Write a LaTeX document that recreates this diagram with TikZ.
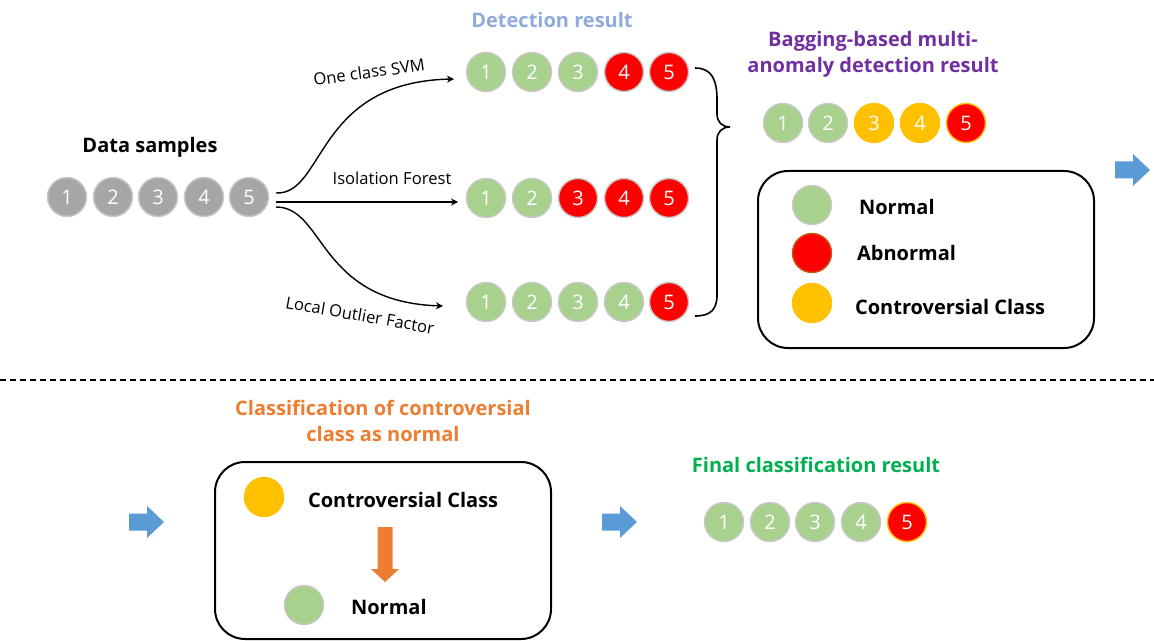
\documentclass[tikz,border=0pt]{standalone}
\usepackage{fontspec}
\setmainfont{Open Sans}
\usepackage{tikz}
\usetikzlibrary{arrows.meta}
\definecolor{samplegray}{RGB}{166,166,166}
\definecolor{rimgray}{RGB}{200,200,200}
\definecolor{normalgreen}{RGB}{169,209,142}
\definecolor{abnormalred}{RGB}{255,0,0}
\definecolor{contraorange}{RGB}{255,192,0}
\definecolor{rimbrown}{RGB}{197,90,17}
\definecolor{flowblue}{RGB}{91,155,213}
\definecolor{steporange}{RGB}{237,125,49}
\definecolor{detectblue}{RGB}{143,170,220}
\definecolor{baggingpurple}{RGB}{112,48,160}
\definecolor{finalgreen}{RGB}{0,176,80}
\tikzset{
    pics/flowarrow/.style={code={
        \fill[flowblue] (-17,-8.5) -- (1,-8.5) -- (1,-16) -- (18,0) -- (1,16)
            -- (1,8.5) -- (-17,8.5) -- cycle;}},
    pics/downarrow/.style={code={
        \fill[steporange] (-7.5,-27.5) -- (7.5,-27.5) -- (7.5,14.5) -- (14,14.5)
            -- (0,27.5) -- (-14,14.5) -- (-7.5,14.5) -- cycle;}}
}

\begin{document}
\begin{tikzpicture}[x=0.5pt,y=-0.5pt,
    dot/.style={circle,minimum size=19.5pt,inner sep=0pt,line width=0.7pt,
        text=white,font=\fontsize{10}{12}\selectfont},
    title/.style={font=\bfseries\fontsize{10}{13}\selectfont,align=center},
    lbl/.style={font=\fontsize{8.3}{10}\selectfont},
    conn/.style={line width=0.7pt,-{Stealth[length=3.5pt,width=3.5pt]}},
    roundbox/.style={draw,line width=1pt,rounded corners=15pt,
        minimum width=168pt,minimum height=88.5pt}]
    \useasboundingbox (0,0) rectangle (1154,641);

    % data samples
    \node[title] (datatitle) at (150,147) {Data samples};
    \foreach \i/\x in {1/67,2/113,3/158,4/204,5/249}
        \node[dot,fill=samplegray,draw=rimgray] (s\i) at (\x,197) {\i};

    % detection rows
    \node[title,text=detectblue] (dettitle) at (552,20) {Detection result};
    \foreach \i/\x/\c in {1/486/normalgreen,2/532/normalgreen,3/578/normalgreen,4/624/abnormalred,5/669/abnormalred}
        \node[dot,fill=\c,draw=rimgray] (a\i) at (\x,72) {\i};
    \foreach \i/\x/\c in {1/486/normalgreen,2/532/normalgreen,3/578/abnormalred,4/624/abnormalred,5/669/abnormalred}
        \node[dot,fill=\c,draw=rimgray] (b\i) at (\x,198) {\i};
    \foreach \i/\x/\c in {1/486/normalgreen,2/532/normalgreen,3/578/normalgreen,4/624/normalgreen,5/669/abnormalred}
        \node[dot,fill=\c,draw=rimgray] (c\i) at (\x,302) {\i};

    % detectors
    \coordinate (out1) at (276,193);
    \coordinate (out2) at (276,202);
    \coordinate (out3) at (276,207);
    \coordinate (in1) at (454,79);
    \coordinate (in2) at (458,202);
    \coordinate (in3) at (443,306);
    \draw[conn] (out1) .. controls (325,195) and (315,82) .. (in1);
    \draw[conn] (out2) -- (in2);
    \draw[conn] (out3) .. controls (325,207) and (318,302) .. (in3);
    \node[lbl,rotate=8] (svm) at (369,72) {One class SVM};
    \node[lbl] (iforest) at (392,178) {Isolation Forest};
    \node[lbl,rotate=-10] (lof) at (360,315) {Local Outlier Factor};

    % brace
    \draw[line width=0.8pt] (695,68) .. controls (712,68) and (717,80) .. (717,100)
        -- (717,114) .. controls (717,122) and (722,127) .. (730,127)
        .. controls (722,127) and (717,132) .. (717,140)
        -- (717,295) .. controls (717,310) and (710,316) .. (695,316);

    % bagging result
    \node[title,text=baggingpurple] (bagtitle) at (873,54)
        {Bagging-based multi-\\anomaly detection result};
    \node[dot,fill=normalgreen,draw=rimgray] (g1) at (783,123) {1};
    \node[dot,fill=normalgreen,draw=rimgray] (g2) at (828,123) {2};
    \node[dot,fill=contraorange,draw=contraorange] (g3) at (874,123) {3};
    \node[dot,fill=contraorange,draw=contraorange] (g4) at (920,123) {4};
    \node[dot,fill=abnormalred,draw=contraorange] (g5) at (966,123) {5};

    % legend
    \node[roundbox] (legend) at (926,259.5) {};
    \node[dot,fill=normalgreen,draw=rimgray] (lg1) at (812,205) {};
    \node[dot,fill=abnormalred,draw=rimbrown] (lg2) at (812,253) {};
    \node[dot,fill=contraorange,draw=contraorange] (lg3) at (812,303) {};
    \node[title,anchor=west] (lgt1) at (852,207) {Normal};
    \node[title,anchor=west] (lgt2) at (850,253) {Abnormal};
    \node[title,anchor=west] (lgt3) at (848,307) {Controversial Class};

    \pic at (1132,170) {flowarrow};

    % separator
    \draw[line width=1pt,dash pattern=on 3pt off 2pt] (0,380) -- (1154,380);

    % reclassification
    \pic at (146,522) {flowarrow};
    \node[title,text=steporange] (clstitle) at (383,421)
        {Classification of controversial\\class as normal};
    \node[roundbox] (clsbox) at (383,550.5) {};
    \node[dot,fill=contraorange,draw=contraorange] (cc) at (264,497) {};
    \node[title,anchor=west] (cct) at (301,500) {Controversial Class};
    \pic at (385,554.5) {downarrow};
    \node[dot,fill=normalgreen,draw=rimgray] (cn) at (304,605) {};
    \node[title,anchor=west] (cnt) at (344,607) {Normal};

    \pic at (619,522) {flowarrow};

    % final result
    \node[title,text=finalgreen] (fintitle) at (816,465) {Final classification result};
    \foreach \i/\x in {1/724,2/770,3/815,4/861}
        \node[dot,fill=normalgreen,draw=rimgray] (f\i) at (\x,522) {\i};
    \node[dot,fill=abnormalred,draw=contraorange] (f5) at (907,522) {5};
\end{tikzpicture}
\end{document}
